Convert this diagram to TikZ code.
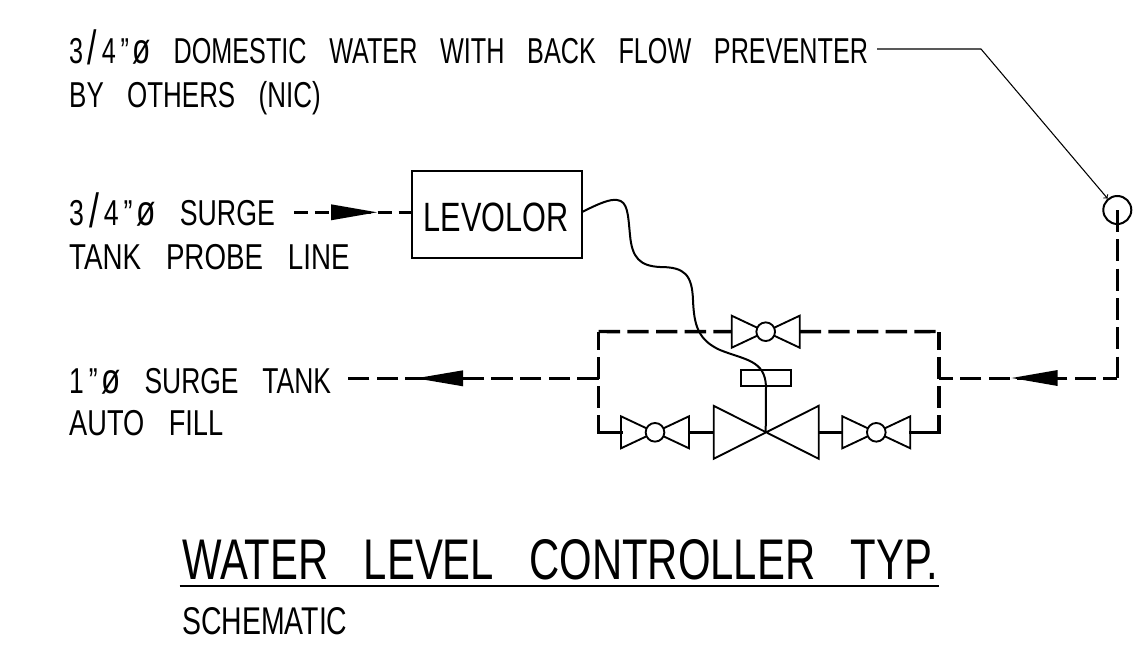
\documentclass[tikz,border=0pt]{standalone}
\usepackage{fontspec}
\setmainfont{Liberation Sans}
\usepackage{tikz}
\usetikzlibrary{arrows}
\usetikzlibrary{calc}
\newcommand{\bigslash}{{\fontsize{36}{36}\selectfont\raisebox{-1pt}{/}}}
\newcommand{\bigdia}{{\fontsize{32}{32}\selectfont ø}}
\tikzset{
	thinpipe/.style={line width=1.5pt},
	thickpipe/.style={line width=2.6pt},
	dashpipe/.style={thickpipe, dash pattern=on 16pt off 5.5pt},
	valvepart/.style={draw=black, line width=1.4pt, fill=white, line join=miter},
	flowtip/.style={fill=black, draw=none},
	label text/.style={anchor=base west, inner sep=0pt, font={\fontsize{27}{27}\selectfont\spaceskip 0.9em\relax}, xscale=0.70, transform shape},
}
\begin{document}
\begin{tikzpicture}[x=0.75pt, y=-0.75pt]
		\useasboundingbox (0,0) rectangle (1142,646);
		\node[label text] (domestic) at (69,63.3) {3\kern5pt\bigslash\kern5pt4\kern5pt"\kern4pt\bigdia\ DOMESTIC WATER WITH BACK FLOW PREVENTER};
		\node[label text, xscale=1.03] (others) at (69,107) {BY OTHERS (NIC)};
		\node[label text, xscale=1.06] (probe) at (69,225.7) {3\kern5pt\bigslash\kern5pt4\kern5pt"\kern4pt\bigdia\ SURGE};
		\node[label text, xscale=1.1] (probeline) at (69,269) {TANK PROBE LINE};
		\node[label text, xscale=1.05] (fill) at (69,393) {1\kern5pt"\kern4pt\bigdia\ SURGE TANK};
		\node[label text, xscale=1.08] (auto) at (69,435.7) {AUTO FILL};
		\node[label text, font={\fontsize{43}{43}\selectfont\spaceskip 0.84em\relax}, xscale=1.043] (title) at (182,579) {WATER LEVEL CONTROLLER TYP.};
		\node[label text, font={\fontsize{29}{29}\selectfont}, xscale=1.05] (schematic) at (182,634) {SCHEMATIC};
		\coordinate (rule a) at (179.5,586);
		\coordinate (rule b) at (939,586);
		\draw[thinpipe] (rule a) -- (rule b);

		\node[draw=black, line width=1.5pt, minimum width=127.5pt, minimum height=65pt, inner sep=0pt] (levolor) at (496.7,214.3) {};
		\node[anchor=base, inner sep=0pt, font=\fontsize{30.7}{30.7}\selectfont, xscale=0.75, transform shape] (levolor text) at (496,231) {LEVOLOR};
		\node[draw=black, circle, line width=1.5pt, minimum size=21pt, inner sep=0pt] (sensor) at (1117.3,210) {};
		\node[draw=black, line width=1.4pt, minimum width=37pt, minimum height=11.7pt, inner sep=0pt] (act) at (766,377.8) {};

		\coordinate (probe a) at (294,212.3);
		\coordinate (leader a) at (877,49);
		\coordinate (leader b) at (981,49);
		\coordinate (tl) at (598.7,331.5);
		\coordinate (tr) at (939,331.5);
		\coordinate (bl) at (598.7,432.3);
		\coordinate (br) at (939,432.3);
		\coordinate (ml) at (598.7,378.3);
		\coordinate (mr) at (939,378.3);
		\coordinate (fill a) at (346,378.3);
		\coordinate (riser) at (1117.3,378.3);

		% small valves
		\foreach \vn/\vx/\vy in {vt/765.7/331.7, vl/655/432.3, vr/876.3/432.3} {
			\coordinate (\vn-w) at (\vx-34,\vy);
			\coordinate (\vn-e) at (\vx+34,\vy);
			\draw[valvepart] (\vn-w) -- ++(0,-16) -- ++(68,32) -- ++(0,-32) -- ++(-68,32) -- cycle;
			\node[draw=black, fill=white, circle, line width=1.4pt, minimum size=14pt, inner sep=0pt] (\vn) at (\vx,\vy) {};
		}

		% main valve
		\node[inner sep=0pt, minimum size=0pt] (vm) at (765.7,432.3) {};
		\coordinate (vm-w) at (713.7,432.3);
		\coordinate (vm-e) at (818.7,432.3);
		\draw[valvepart] (vm-w) -- ++(0,-26.5) -- ++(105,53) -- ++(0,-53) -- ++(-105,53) -- cycle;
		\draw[line width=1.5pt] (act.south) -- (vm);

		% pipes
		\draw[dashpipe] (tl) -- (vt-w);
		\draw[dashpipe] (vt-e) -- (tr);
		\draw[dashpipe] (ml) -- (tl);
		\draw[dashpipe] (mr) -- (tr);
		\draw[dashpipe, dash phase=3pt] (bl) -- (ml);
		\draw[dashpipe, dash phase=3pt] (br) -- (mr);
		\draw[thickpipe, line cap=rect] (bl) -- (vl-w);
		\draw[thickpipe, line cap=rect] (br) -- (vr-e);
		\draw[thickpipe] (vl-e) -- (vm-w);
		\draw[thickpipe] (vm-e) -- (vr-w);
		\draw[dashpipe] (ml) -- (fill a);
		\draw[thickpipe, dash pattern=on 16.5pt off 5.5pt] (sensor.center) -- (riser);
		\draw[dashpipe, dash phase=5.5pt] (riser) -- (mr);
		\draw[thickpipe, dash pattern=on 10.5pt off 5.2pt] (probe a) -- (levolor.west |- probe a);

		% flow arrows
		\fill[flowtip] (331,204.3) -- (377,212.3) -- (331,220.3) -- cycle;
		\fill[flowtip] (463,370.3) -- (416,378.3) -- (463,386.3) -- cycle;
		\fill[flowtip] (1057.7,370) -- (1011.7,378) -- (1057.7,386) -- cycle;

		% control line
		\draw[line width=1.5pt] (levolor.east |- 0,211.7) .. controls (600,203) and (610,199) .. (617,200) .. controls (628,201) and (628,215) .. (630,235) .. controls (632,258) and (640,266) .. (660,267) .. controls (685,267) and (692,275) .. (693,300) .. controls (694,325) and (698,340) .. (720,350) .. controls (745,360) and (765,360) .. (act.south);

		% leader
		\draw[line width=0.8pt, ->] (leader a) -- (leader b) -- (sensor);
	\end{tikzpicture}
\end{document}
